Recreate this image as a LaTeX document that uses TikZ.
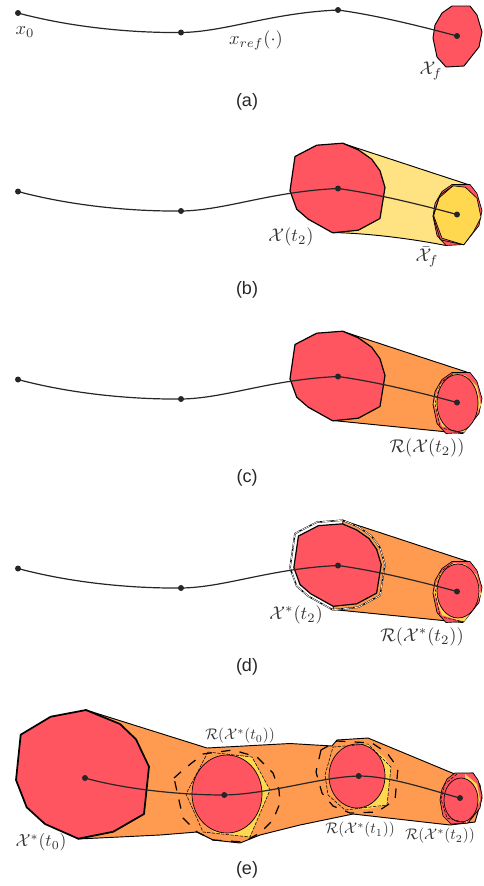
\documentclass[tikz,border=0pt]{standalone}
\usepackage{fontspec}
\setmainfont{Liberation Sans}
\definecolor{setred}{HTML}{FF5560}
\definecolor{hullorange}{HTML}{FF9B50}
\definecolor{hullyellow}{HTML}{FFE282}
\definecolor{setyellow}{HTML}{FFD84F}
\definecolor{labgray}{HTML}{333333}
\newcommand{\bigpoly}{(4.7,-45.3)--(-21.3,-43.3)--(-43,-32)--(-48,2.3)--(-41.3,20.7)--(-29.7,30.7)--(-5.3,44.3)--(20.3,41.7)--(42,30)--(47,-1)--(42,-17.7)--(33.7,-29.3)--(20.3,-38.7)--cycle}
\newcommand{\smallpoly}{(-5,-30)--(13,-30)--(20,-21)--(25,-4)--(22,11)--(7,30)--(-11,31)--(-20,21)--(-24,2)--(-22,-11)--(-15,-23)--cycle}
\newcommand{\octpoly}{(-4,-28.7)--(8.3,-27.3)--(20,-16.3)--(24,2.7)--(16.7,17)--(6.7,30.3)--(-15,23.7)--(-23.3,1.3)--(-18.3,-16.3)--cycle}
\tikzset{
  dotnode/.style={circle,fill=black!85,inner sep=0pt,minimum size=4.5pt},
  trajline/.style={line width=0.9pt,black!85},
  setpoly/.style={fill=setred,draw=black,line width=0.9pt,line join=round},
  thickpoly/.style={fill=setred,draw=black,line width=1.3pt,line join=round},
  thinline/.style={draw=black,line width=0.5pt,line join=round},
  thindash/.style={draw=black,line width=0.4pt,dash pattern=on 2.5pt off 1pt},
  bigdash/.style={draw=black,line width=0.9pt,dash pattern=on 7pt off 7pt},
  mlab/.style={text=labgray,inner sep=0pt,scale=1.38},
  elab/.style={text=labgray,inner sep=0pt,scale=1.15},
  caplab/.style={text=black!85,inner sep=0pt,font=\fontsize{13.5}{16}\selectfont},
}
% #1 name prefix, #2 vertical offset of the panel
\newcommand{\trajpanel}[2]{%
  \begin{scope}[shift={(0,#2)}]
    \node[dotnode] (#1s) at (18,13) {};
    \node[dotnode] (#1m) at (181,32.5) {};
    \node[dotnode] (#1n) at (338,10) {};
    \node[dotnode] (#1f) at (457,36) {};
    \draw[trajline] (#1s.center) .. controls (70,27) and (130,33) .. (#1m.center);
    \draw[trajline] (#1m.center) .. controls (225,32) and (270,13) .. (#1n.center);
    \draw[trajline] (#1n.center) .. controls (375,15) and (420,26) .. (#1f.center);
  \end{scope}}
\begin{document}
\begin{tikzpicture}[x=0.75pt,y=-0.75pt]
\useasboundingbox (0,0) rectangle (484,886);

% (a)
\begin{scope}[shift={(457,36)}]
  \fill[setred] \smallpoly;
  \draw[thinline,line width=0.7pt] \smallpoly;
\end{scope}
\trajpanel{a}{0}
\node[mlab] (la1) at (25,32) {$x_0$};
\node[mlab] (la2) at (256,40) {$x_{ref}(\cdot)$};
\node[mlab] (la3) at (431,71) {$\mathcal{X}_f$};
\node[caplab] (capa) at (247,102) {(a)};

% (b)
\begin{scope}[shift={(0,178.5)}]
  \path[fill=hullyellow,thinline,line width=0.7pt] (343,-35) -- (468,6) -- (446,67) .. controls (410,60) and (370,55) .. (333,54) -- cycle;
  \begin{scope}[shift={(338,10)}] \path[setpoly] \bigpoly; \end{scope}
  \begin{scope}[shift={(457,36)}]
    \path[setpoly,line width=0.5pt] \smallpoly;
    \path[fill=setyellow,thinline] \octpoly;
    \draw[thinline] (-4,-28.7) -- (-16.7,-19.7) -- (-24,1.3) -- (-16.7,25.3) -- (6.7,30.3);
  \end{scope}
\end{scope}
\trajpanel{b}{178.5}
\node[mlab] (lb1) at (291,237) {$\mathcal{X}(t_2)$};
\node[mlab] (lb2) at (427,257) {$\bar{\mathcal{X}}_f$};
\node[caplab] (capb) at (247,290) {(b)};

% (c)
\begin{scope}[shift={(0,366.5)}]
  \path[fill=hullorange,thinline,line width=0.7pt] (343,-35) -- (468,6) -- (463,67) -- (333,54) -- cycle;
  \begin{scope}[shift={(338,10)}] \path[setpoly] \bigpoly; \end{scope}
  \begin{scope}[shift={(457,36)}]
    \path[setpoly,line width=0.5pt] \smallpoly;
    \path[fill=setyellow] \octpoly;
    \path[fill=setred,thinline] (0.5,0.5) ellipse (20.5 and 28.5);
    \draw[thindash] (-4,-28.7) -- (-16.7,-19.7) -- (-22,1.3) -- (-16.7,25.3) -- (6.7,30.3);
  \end{scope}
\end{scope}
\trajpanel{c}{366.5}
\node[mlab] (lc1) at (427,448) {$\mathcal{R}(\mathcal{X}(t_2))$};
\node[caplab] (capc) at (247,478) {(c)};

% (d)
\begin{scope}[shift={(0,555.5)}]
  \path[fill=hullorange,thinline,line width=0.7pt] (343,-35) -- (468,6) -- (463,67) -- (333,54) -- cycle;
  \begin{scope}[shift={(338,10)}]
    \draw[draw=black,line width=1.1pt,line join=round] \bigpoly;
    \draw[draw=white,line width=0.5pt,dash pattern=on 7pt off 1.5pt] \bigpoly;
    \begin{scope}[scale=0.92] \path[setpoly] \bigpoly; \end{scope}
  \end{scope}
  \begin{scope}[shift={(457,36)}]
    \path[setpoly,line width=0.5pt] \smallpoly;
    \path[fill=setyellow] \octpoly;
    \path[fill=setred,thinline] (1,-0.5) ellipse (21 and 27);
    \draw[thindash] (-4,-28.7) -- (-16.7,-19.7) -- (-22,1.3) -- (-16.7,25.3) -- (6.7,30.3);
  \end{scope}
\end{scope}
\trajpanel{d}{555.5}
\node[mlab] (ld1) at (296,615) {$\mathcal{X}^*(t_2)$};
\node[mlab] (ld2) at (422,637) {$\mathcal{R}(\mathcal{X}^*(t_2))$};
\node[caplab] (capd) at (247,667) {(d)};

% (e)
\path[fill=hullorange,thinline,line width=0.7pt] (86,710) -- (207,748) -- (290,743.5) -- (332,746) -- (337,740) -- (368,738) -- (457,775) -- (473,773) -- (480,785) -- (482,798) -- (475,822) -- (450,825) -- (353,814) -- (300,825) -- (260,835) -- (240,843) -- (213,840) -- (197,832) -- (160,835) -- (78,839) -- cycle;
\path[thickpoly] (86,710) -- (50.7,716.7) -- (20.7,734.7) -- (16,780) -- (26.7,807.3) -- (45,824) -- (78.3,838.7) -- (113.3,831.7) -- (144,814) -- (149,766.7) -- (136,739.3) -- (120,724) -- cycle;
% first intermediate set
\path[fill=setyellow] (230,755) -- (252,757) -- (270,790) -- (250,837) -- (215,833) -- (200,815) -- cycle;
\path[fill=setred,thinline] (227,794) ellipse (35 and 39);
\draw[thindash] (208,752) -- (252,757) -- (270,790) -- (250,837) -- (203,832) -- (186,794) -- cycle;
\draw[bigdash] (174,778) -- (183,770) -- (203,754) -- (233,750) -- (257,757) -- (273,773) -- (279,790) -- (280,803) -- (273,820) -- (260,833) -- (243,842) -- (213,840) -- (197,832) -- (183,818) -- cycle;
% second intermediate set
\path[fill=setyellow] (360,745) -- (368,744) -- (385,758) -- (391,767) -- (387,805) -- (367,809) -- (350,808) -- cycle;
\path[fill=setred,thinline] (357,776) ellipse (28 and 32);
\draw[thindash] (333,747) -- (368,744) -- (391,767) -- (387,805) -- (345,810) -- (328,795) -- (325,775) -- cycle;
\draw[bigdash] (321,750) -- (316,772) -- (322,793) -- (333,806) -- (350,813) -- (377,812) -- (395,800) -- (398,768) -- (387,753) -- (372,743) -- (337,741) -- cycle;
% last set
\begin{scope}[shift={(460,798)}]
  \path[setpoly,line width=0.5pt] (-5,-25) -- (13,-25) -- (18,-18) -- (22,-3) -- (20,10) -- (8,25) -- (-9,26) -- (-17,18) -- (-20,2) -- (-18,-9) -- (-13,-19) -- cycle;
  \path[fill=setyellow] (5,-24) -- (17,-14) -- (20,2) -- (15,14) -- (6,25) -- cycle;
  \path[fill=setred,thinline] (1,2) ellipse (17 and 22);
  \draw[thindash] (-3,-24) -- (-15,-14) -- (-19,1) -- (-13,20) -- (6,25);
\end{scope}
\node[dotnode] (e1) at (85,778) {};
\node[dotnode] (e2) at (224.3,795) {};
\node[dotnode] (e3) at (358.7,776) {};
\node[dotnode] (e4) at (460,798) {};
\draw[trajline] (e1.center) .. controls (120,788) and (175,795) .. (e2.center);
\draw[trajline] (e2.center) .. controls (270,794) and (320,777) .. (e3.center);
\draw[trajline] (e3.center) .. controls (390,776) and (430,790) .. (e4.center);
\node[elab] (le1) at (240,736) {$\mathcal{R}(\mathcal{X}^*(t_0))$};
\node[mlab,scale=0.95] (le2) at (41,842) {$\mathcal{X}^*(t_0)$};
\node[elab] (le3) at (360,830) {$\mathcal{R}(\mathcal{X}^*(t_1))$};
\node[elab] (le4) at (440,836) {$\mathcal{R}(\mathcal{X}^*(t_2))$};
\node[caplab] (cape) at (247,870) {(e)};
\end{tikzpicture}
\end{document}
